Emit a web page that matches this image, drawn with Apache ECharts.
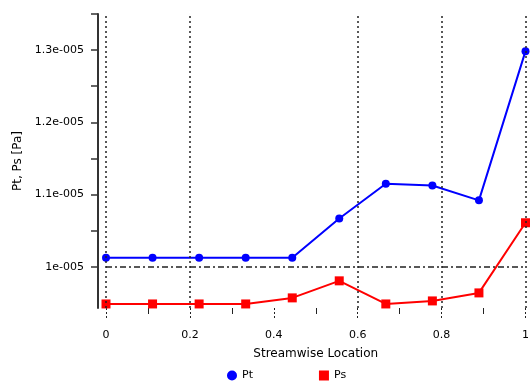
<!DOCTYPE html>
<html lang="en">

<head>
    <meta charset="UTF-8">
    <title>Pt, Ps along streamwise location</title>
    <script src="https://cdn.jsdelivr.net/npm/echarts@6.0.0/dist/echarts.min.js"></script>
    <style>
        body { margin: 0; background: #fff; }
        #chart { width: 532px; height: 383px; }
    </style>
</head>

<body>
    <div id="chart"></div>
    <script>
        var myChart = echarts.init(document.getElementById('chart'));

        // streamwise stations
        var location_ = [0, 0.111, 0.222, 0.333, 0.444, 0.556, 0.667, 0.778, 0.889, 1];
        // total pressure
        var pt = [1.0125e-5, 1.0125e-5, 1.0125e-5, 1.0125e-5, 1.0125e-5, 1.067e-5, 1.115e-5, 1.1125e-5, 1.092e-5, 1.2986e-5];
        // static pressure
        var ps = [0.9486e-5, 0.9486e-5, 0.9486e-5, 0.9486e-5, 0.957e-5, 0.9806e-5, 0.9486e-5, 0.9528e-5, 0.9639e-5, 1.061e-5];

        var yLabelValues = [1e-5, 1.1e-5, 1.2e-5, 1.3e-5];
        var yLabelText = ['1e-005', '1.1e-005', '1.2e-005', '1.3e-005'];
        var yTickValues = [1e-5, 1.05e-5, 1.1e-5, 1.15e-5, 1.2e-5, 1.25e-5, 1.3e-5, 1.35e-5];
        // grid lines that show in the picture
        var gridX = [0, 0.2, 0.6, 0.8, 1];
        var gridY = [1e-5];

        function pairs(ys) {
            return location_.map(function (x, i) { return [x, ys[i]]; });
        }

        var option = {
            animation: false,
            textStyle: { fontFamily: 'DejaVu Sans', color: '#000' },
            grid: { left: 106, right: 5, top: 14, bottom: 75 },
            legend: {
                top: 365,
                left: 222,
                itemGap: 66,
                itemWidth: 10,
                itemHeight: 10,
                textStyle: { fontSize: 11, color: '#000' },
                data: [
                    { name: 'Pt', icon: 'circle' },
                    { name: 'Ps', icon: 'rect' }
                ]
            },
            xAxis: {
                type: 'value',
                min: 0,
                max: 1,
                interval: 0.2,
                name: 'Streamwise Location',
                nameLocation: 'middle',
                nameGap: 40,
                nameTextStyle: { fontSize: 12, color: '#000' },
                axisLine: { show: false },
                axisTick: { length: 10, lineStyle: { color: '#222', type: [2, 2] } },
                minorTick: { show: true, splitNumber: 2, length: 6, lineStyle: { color: '#222' } },
                axisLabel: {
                    fontSize: 11, color: '#000', margin: 22,
                    formatter: function (v) { return String(+v.toFixed(1)); }
                },
                splitLine: { show: false }
            },
            yAxis: {
                type: 'value',
                min: 0.943e-5,
                max: 1.35e-5,
                name: 'Pt, Ps [Pa]',
                nameLocation: 'middle',
                nameGap: 52,
                nameTextStyle: { fontSize: 12, color: '#000' },
                offset: 8,
                axisLine: { show: true, onZero: false, lineStyle: { color: '#333', width: 2 } },
                axisTick: { show: true, length: 7, customValues: yTickValues, lineStyle: { color: '#333', width: 1.5 } },
                axisLabel: {
                    fontSize: 11, color: '#000', margin: 14,
                    customValues: yLabelValues,
                    formatter: function (v) {
                        for (var i = 0; i < yLabelValues.length; i++) {
                            if (Math.abs(v - yLabelValues[i]) < 1e-9) return yLabelText[i];
                        }
                        return '';
                    }
                },
                splitLine: { show: false }
            },
            series: [
                {
                    name: 'Pt',
                    type: 'line',
                    data: pairs(pt),
                    symbol: 'circle',
                    symbolSize: 8,
                    color: '#0000ff',
                    lineStyle: { width: 2 },
                    z: 3,
                    markLine: {
                        silent: true,
                        symbol: 'none',
                        precision: 12,
                        label: { show: false },
                        lineStyle: { color: '#222', type: [2, 3], width: 1.5 },
                        data: gridX.map(function (x) { return { xAxis: x }; })
                    }
                },
                {
                    name: 'Ps',
                    type: 'line',
                    data: pairs(ps),
                    symbol: 'rect',
                    symbolSize: 9,
                    color: '#ff0000',
                    lineStyle: { width: 2 },
                    z: 3,
                    markLine: {
                        silent: true,
                        symbol: 'none',
                        precision: 12,
                        label: { show: false },
                        lineStyle: { color: '#222', type: [6, 3, 2, 3], width: 1.5 },
                        data: gridY.map(function (y) { return { yAxis: y }; })
                    }
                }
            ]
        };

        myChart.setOption(option);
    </script>
</body>

</html>
